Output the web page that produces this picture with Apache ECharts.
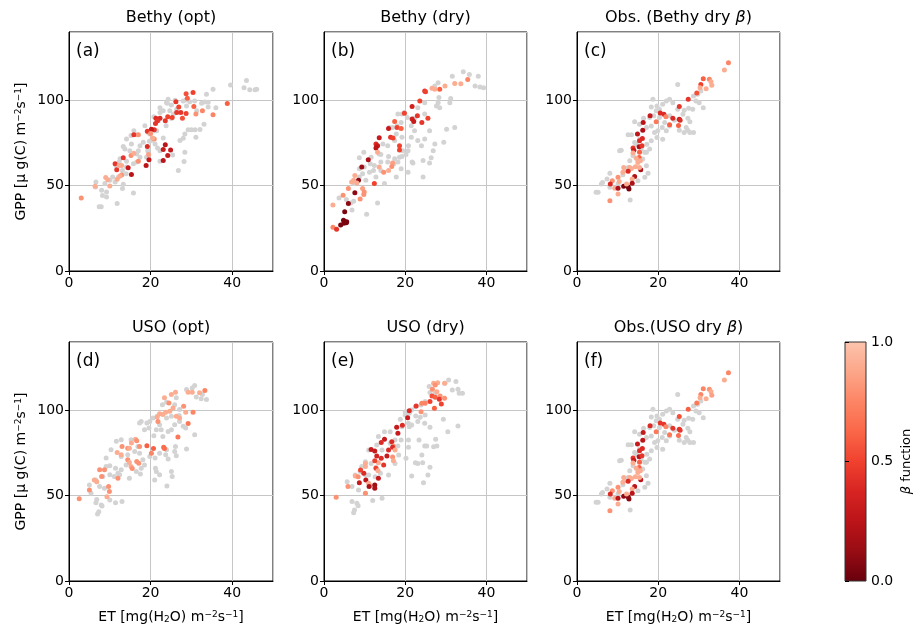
<!DOCTYPE html>
<html><head><meta charset="utf-8">
<script src="https://cdn.jsdelivr.net/npm/echarts@6/dist/echarts.min.js"></script>
<style>html,body{margin:0;padding:0;background:#fff}#c{width:915px;height:626px}</style>
</head><body><div id="c"></div>
<script>
// ---------- DATA (ET, GPP) gray = all points; dry = [ET, GPP, beta] ----------
const grayA = [[39.6,108.9],[43.5,111.6],[42.9,107.4],[44.3,106.2],[45.6,106.2],[46.0,106.4],[35.3,106.4],[33.7,103.5],[33.3,99.0],[34.1,98.8],[32.5,98.3],[30.8,99.6],[29.6,99.2],[28.7,100.2],[28.0,99.6],[26.0,100.0],[24.3,100.6],[23.9,98.6],[25.1,97.3],[22.3,95.7],[23.1,93.8],[24.7,93.8],[26.4,92.8],[24.1,98.3],[28.8,96.7],[31.3,93.8],[34.1,96.1],[36.0,95.7],[33.1,86.0],[32.1,82.9],[30.9,82.8],[30.0,82.8],[29.2,82.8],[28.4,80.2],[28.0,77.7],[31.1,78.3],[27.2,76.4],[28.4,69.6],[25.4,68.0],[26.8,58.9],[28.2,64.1],[23.8,85.1],[21.5,82.2],[19.8,80.2],[20.2,76.4],[21.1,74.4],[22.3,70.5],[22.3,64.3],[21.7,72.1],[19.0,66.7],[19.3,70.5],[18.6,85.1],[15.9,82.2],[16.6,79.8],[15.2,79.3],[14.1,77.3],[15.3,74.4],[13.3,72.9],[13.7,71.5],[14.9,70.5],[16.6,68.6],[17.4,66.7],[16.6,63.8],[15.8,62.8],[14.1,60.9],[12.5,65.7],[12.3,63.8],[11.5,61.8],[13.1,58.9],[14.0,57.0],[12.1,55.0],[10.7,55.0],[10.0,53.1],[11.3,52.1],[13.3,50.8],[8.8,51.2],[6.6,52.1],[6.5,49.2],[8.0,47.3],[9.2,46.3],[9.2,43.4],[8.2,44.2],[7.4,37.6],[7.9,37.6],[11.8,39.5],[15.8,45.7],[13.1,48.3],[18.2,75.4],[19.7,76.0],[17.4,73.4],[14.1,64.3],[17.0,70.5],[21.1,82.2],[19.4,81.2],[23.1,77.9],[25.1,89.3],[25.6,91.9],[26.4,94.8],[21.9,88.0],[22.3,92.8],[20.8,90.3]];
const dryA = [[28.7,103.9,0.55],[30.4,104.5,0.5],[29.0,101.2,0.6],[26.2,99.2,0.45],[26.9,96.1,0.5],[26.4,92.8,0.45],[27.4,92.8,0.45],[28.7,92.2,0.5],[30.6,96.3,0.6],[32.7,93.8,0.75],[35.3,91.5,0.75],[38.8,98.1,0.6],[31.1,91.9,0.8],[27.8,89.5,0.55],[25.3,89.9,0.5],[24.2,90.3,0.5],[23.6,88.0,0.45],[22.3,89.5,0.4],[21.3,89.5,0.4],[21.7,88.0,0.45],[21.2,86.4,0.45],[20.9,82.8,0.45],[20.2,83.1,0.3],[19.2,81.8,0.45],[20.0,80.6,0.8],[20.9,77.3,0.8],[20.5,77.9,0.9],[19.2,72.9,0.4],[19.5,68.2,0.85],[19.6,65.1,0.3],[18.9,61.8,0.25],[23.6,74.0,0.25],[23.1,71.1,0.3],[24.9,70.9,0.3],[24.2,67.6,0.3],[23.1,64.7,0.25],[15.9,79.8,0.45],[17.0,79.8,0.8],[15.2,67.6,0.8],[15.9,69.0,0.9],[13.3,66.3,0.45],[14.5,60.5,0.3],[15.3,56.6,0.25],[11.3,62.8,0.45],[11.7,59.3,0.45],[12.3,61.8,0.9],[12.9,61.8,0.9],[12.9,56.2,0.8],[12.5,55.6,0.9],[11.8,53.7,0.9],[9.0,54.7,0.9],[9.5,53.5,0.9],[6.4,49.6,0.9],[10.0,49.8,0.9],[3.0,42.8,0.8],[17.0,64.3,0.8]];

const grayB = [[34.3,116.7],[35.8,115.1],[38.0,114.1],[37.2,108.3],[38.4,107.8],[39.3,107.4],[31.6,114.1],[28.1,110.3],[27.3,108.3],[31.2,101.0],[31.0,98.6],[28.3,101.6],[28.1,98.6],[28.5,95.7],[27.7,96.7],[24.8,98.6],[23.1,95.7],[19.8,92.8],[19.2,91.9],[20.5,89.9],[19.0,87.0],[18.0,85.1],[21.5,85.1],[22.3,82.2],[21.5,78.3],[20.8,73.4],[19.2,78.3],[17.8,80.2],[17.4,76.4],[15.7,73.4],[14.5,74.4],[14.0,68.2],[15.9,67.1],[17.4,65.7],[18.6,66.7],[19.2,67.1],[20.2,68.2],[20.7,70.5],[23.1,76.4],[24.0,73.4],[24.8,77.3],[26.9,70.5],[27.3,74.4],[26.4,66.3],[26.0,63.2],[24.4,64.7],[21.7,63.8],[20.7,57.9],[21.9,63.2],[24.4,55.0],[17.8,55.0],[14.9,51.2],[13.2,39.9],[10.5,33.3],[6.9,35.7],[6.6,39.9],[7.4,51.2],[3.7,42.8],[8.7,55.0],[9.5,57.0],[11.2,57.9],[12.2,58.9],[12.8,55.0],[10.3,53.1],[9.8,69.6],[8.7,66.3],[11.6,66.7],[13.6,68.6],[11.4,62.8],[12.4,61.8],[9.9,60.9],[14.0,58.9],[8.7,59.9],[15.7,63.8],[17.2,62.8],[30.2,83.1],[32.2,84.1],[29.5,75.4],[16.9,84.1],[16.1,84.1],[18.2,91.9],[22.3,89.5],[24.8,91.9],[26.0,82.2],[19.4,70.5],[18.2,63.8],[7.3,40.9],[5.5,41.9],[14.0,63.8],[19.0,59.9]];
const dryB = [[35.4,112.2,0.75],[33.7,109.7,0.9],[32.2,109.9,0.9],[29.8,108.3,0.9],[28.5,106.4,0.6],[27.3,106.4,0.9],[26.6,107.0,0.9],[24.8,105.4,0.45],[25.0,105.0,0.5],[23.6,99.6,0.5],[21.7,96.3,0.35],[19.8,92.4,0.5],[23.0,90.9,0.45],[25.6,89.5,0.5],[24.1,87.0,0.45],[21.7,89.0,0.35],[22.1,87.6,0.3],[17.4,87.6,0.6],[18.0,84.1,0.5],[19.0,83.5,0.6],[15.9,83.5,0.3],[16.4,78.3,0.45],[17.0,77.9,0.5],[13.6,78.1,0.3],[12.8,74.4,0.4],[13.2,73.4,0.3],[12.8,72.1,0.25],[18.6,73.4,0.5],[18.6,70.9,0.5],[13.2,69.6,0.9],[10.9,65.1,0.2],[9.3,60.9,0.15],[16.9,63.2,0.85],[16.7,61.2,0.8],[15.9,58.9,0.9],[14.7,57.8,0.8],[13.6,60.9,0.9],[12.4,51.2,0.5],[8.5,53.1,0.1],[7.6,56.0,0.9],[8.1,51.6,0.9],[6.8,52.1,0.9],[7.3,53.1,0.9],[9.5,48.3,0.85],[9.9,46.3,0.8],[9.8,44.8,0.8],[6.0,48.3,0.8],[7.6,45.9,0.1],[8.9,42.2,0.8],[4.7,44.4,0.8],[6.0,39.5,0.1],[2.2,38.6,0.9],[5.1,34.7,0.05],[4.8,29.8,0.05],[5.2,28.9,0.05],[5.5,28.3,0.05],[4.9,27.9,0.05],[4.1,26.9,0.05],[5.6,28.9,0.05],[2.2,25.6,0.75],[3.1,24.4,0.45]];

const grayC = [[24.8,109.3],[30.5,105.4],[29.7,103.5],[28.7,102.5],[29.3,99.6],[30.1,98.6],[31.1,95.7],[28.5,94.7],[27.5,95.3],[26.4,94.2],[26.1,91.8],[24.8,94.7],[23.6,98.6],[22.8,100.6],[22.0,99.6],[21.1,97.7],[20.3,94.7],[19.5,93.8],[18.7,100.6],[18.3,96.1],[19.7,96.7],[18.9,90.9],[17.9,89.9],[16.4,89.5],[14.2,87.5],[15.4,86.0],[17.1,84.0],[18.3,85.0],[19.1,81.1],[19.9,82.1],[21.0,84.0],[22.0,82.1],[22.8,85.0],[21.1,77.2],[19.7,78.2],[18.3,76.3],[17.2,74.3],[17.9,71.4],[16.7,69.5],[16.2,65.6],[17.1,61.7],[17.5,57.2],[16.7,54.9],[15.0,52.9],[13.8,67.5],[13.0,64.6],[12.6,60.7],[11.8,58.8],[11.3,56.4],[10.5,70.4],[10.9,70.8],[12.6,79.8],[13.4,79.8],[14.2,75.3],[25.2,82.5],[26.4,81.1],[26.9,84.0],[27.3,82.5],[27.8,81.1],[28.7,81.1],[27.8,87.5],[27.3,89.5],[8.1,57.2],[7.4,53.9],[6.3,51.9],[6.0,51.0],[4.7,46.1],[5.2,46.1],[13.1,41.6],[8.1,49.0],[12.6,49.0],[10.1,51.0],[14.6,74.3],[15.4,77.2],[15.8,71.4],[20.3,89.9],[17.1,69.5],[15.0,64.6],[22.8,90.9],[24.0,88.3],[21.6,87.0]];
const dryC = [[37.3,122.0,0.75],[36.3,117.7,0.9],[31.1,112.6,0.6],[32.6,112.3,0.75],[33.0,110.9,0.9],[33.2,108.8,0.9],[30.5,109.3,0.5],[30.3,107.4,0.9],[31.8,106.8,0.9],[29.5,104.3,0.55],[27.4,100.6,0.45],[25.2,96.3,0.45],[20.5,92.6,0.4],[21.4,91.8,0.4],[21.9,90.3,0.75],[23.6,89.5,0.4],[25.2,88.9,0.35],[25.4,88.3,0.4],[22.8,85.6,0.6],[25.0,85.2,0.6],[19.5,87.5,0.7],[18.0,91.0,0.3],[16.3,87.0,0.25],[16.2,82.5,0.2],[14.9,80.2,0.25],[16.1,77.6,0.4],[15.4,76.3,0.4],[15.3,72.8,0.2],[16.0,73.3,0.45],[13.8,72.0,0.45],[14.0,70.8,0.3],[15.4,69.5,0.6],[13.8,69.1,0.9],[15.3,66.5,0.6],[14.6,66.0,0.9],[15.6,64.6,0.9],[15.0,63.6,0.9],[14.4,61.1,0.9],[15.7,59.3,0.2],[15.4,60.7,0.9],[13.0,60.7,0.9],[13.4,60.1,0.9],[11.5,60.7,0.9],[11.3,57.8,0.9],[12.6,58.4,0.4],[14.2,55.4,0.2],[13.6,53.9,0.9],[10.1,54.9,0.8],[10.4,52.5,0.9],[8.7,52.9,0.8],[8.2,51.0,0.4],[9.3,48.4,0.9],[10.1,48.4,0.2],[11.5,49.6,0.05],[12.6,49.4,0.05],[12.8,48.1,0.05],[13.6,51.4,0.2],[12.2,51.0,0.9],[10.1,45.1,0.9],[8.1,41.2,0.8]];

const grayD = [[30.8,114.5],[30.2,113.1],[28.8,112.2],[26.3,107.3],[25.9,103.3],[23.9,104.7],[22.9,103.3],[31.2,107.8],[32.4,106.7],[33.7,106.3],[32.7,109.2],[27.1,100.4],[27.0,96.9],[25.1,96.5],[23.9,95.5],[21.6,96.5],[20.6,95.5],[19.8,93.5],[19.1,92.5],[17.7,93.5],[17.3,92.5],[18.5,88.6],[19.6,89.6],[21.4,88.6],[22.6,88.6],[22.2,91.6],[20.8,85.1],[23.0,84.7],[24.3,87.6],[25.1,88.6],[25.9,91.6],[27.1,93.5],[28.0,90.6],[28.6,89.6],[30.8,85.7],[28.8,77.3],[26.1,78.8],[25.9,75.9],[26.3,73.3],[23.9,76.9],[23.7,73.9],[24.3,71.4],[22.2,74.9],[21.1,72.0],[19.8,72.9],[18.5,68.0],[17.7,66.1],[17.5,62.7],[16.5,64.1],[14.8,60.2],[21.2,66.1],[21.4,64.1],[22.2,62.2],[21.0,59.2],[25.1,64.1],[25.3,61.2],[24.0,55.7],[18.1,71.0],[16.1,75.9],[14.4,73.9],[12.8,72.9],[11.6,81.8],[12.8,82.7],[10.3,76.9],[9.1,72.0],[9.1,67.1],[10.0,67.5],[11.4,66.1],[12.0,63.1],[12.8,65.1],[12.4,62.2],[11.1,61.2],[10.0,62.2],[8.3,61.2],[6.6,59.2],[7.5,55.3],[8.7,54.3],[5.0,56.3],[5.4,51.4],[6.8,47.8],[6.6,45.9],[7.9,44.5],[8.1,43.9],[7.3,40.6],[7.0,39.2],[11.4,45.9],[13.0,46.5],[10.0,47.5],[14.0,68.0],[15.2,82.7],[16.9,78.8],[17.3,74.9]];
const dryD = [[33.3,111.6,0.75],[32.0,110.2,0.9],[30.2,110.6,0.9],[29.2,110.6,0.9],[26.1,110.6,0.9],[25.1,109.2,0.9],[23.4,107.3,0.9],[24.5,104.3,0.8],[25.5,101.4,0.9],[24.7,99.4,0.9],[23.7,98.8,0.9],[22.2,98.0,0.9],[21.6,96.1,0.9],[21.8,93.5,0.8],[23.0,97.5,0.9],[26.3,96.5,0.9],[27.1,95.5,0.9],[28.1,102.4,0.8],[28.6,98.8,0.9],[30.4,98.8,0.75],[29.2,92.2,0.7],[26.7,84.3,0.7],[23.2,78.4,0.65],[23.4,77.6,0.65],[20.7,77.6,0.6],[19.1,79.2,0.6],[20.2,74.9,0.75],[17.3,78.8,0.8],[16.3,83.1,0.9],[16.6,82.2,0.8],[15.3,80.8,0.9],[14.4,77.8,0.8],[14.8,77.8,0.9],[13.0,78.8,0.8],[12.8,73.9,0.9],[11.8,75.3,0.9],[14.4,71.0,0.8],[14.8,69.4,0.9],[16.6,70.0,0.8],[17.1,69.0,0.8],[15.2,67.1,0.9],[15.5,65.9,0.8],[12.0,60.2,0.8],[8.7,65.1,0.8],[7.5,65.1,0.8],[8.0,61.2,0.8],[6.2,59.2,0.9],[6.8,58.2,0.9],[9.7,55.3,0.8],[9.9,52.4,0.8],[9.3,49.4,0.9],[5.0,53.3,0.8],[2.5,48.2,0.8]];

const grayE = [[30.7,117.8],[32.5,116.8],[29.8,115.8],[31.6,111.9],[33.0,112.3],[33.3,110.0],[34.1,110.0],[25.9,113.9],[26.1,110.4],[27.4,110.0],[24.9,105.1],[23.9,103.1],[22.5,102.1],[21.6,100.2],[20.0,99.2],[20.0,97.3],[21.0,98.2],[22.6,96.7],[23.7,95.9],[24.9,97.3],[23.1,93.4],[21.6,91.4],[20.8,92.4],[18.8,94.7],[19.2,90.4],[21.0,90.4],[24.8,92.4],[26.1,90.0],[29.4,94.7],[30.5,87.5],[33.0,90.8],[27.5,83.0],[27.8,79.1],[27.0,78.7],[25.3,79.1],[24.8,79.1],[23.4,82.6],[20.8,82.6],[20.8,78.3],[18.2,79.1],[20.2,71.9],[22.5,69.3],[23.1,68.9],[24.1,73.8],[24.3,69.3],[26.1,66.6],[25.6,62.1],[21.6,61.5],[24.5,57.6],[18.4,73.8],[17.5,68.9],[15.9,62.1],[14.9,87.5],[13.4,84.6],[13.0,79.7],[11.0,76.8],[10.2,69.9],[9.3,67.0],[11.6,68.9],[12.8,66.6],[13.9,63.1],[12.6,61.1],[10.2,62.1],[8.9,64.1],[7.7,62.1],[5.7,58.2],[6.9,55.3],[8.5,53.3],[10.2,51.4],[12.0,47.1],[14.3,48.4],[6.9,46.5],[8.1,45.5],[8.4,44.1],[7.5,41.6],[7.3,40.0],[11.0,62.1],[14.3,76.8],[16.3,80.7],[16.3,87.5],[17.5,82.6],[19.0,82.6]];
const dryE = [[27.0,115.8,0.9],[28.0,116.2,0.9],[27.4,114.8,0.8],[29.7,115.8,0.9],[26.7,112.3,0.8],[27.8,110.9,0.9],[28.6,108.4,0.8],[29.7,107.0,0.8],[26.6,108.4,0.55],[27.4,107.6,0.6],[28.4,106.4,0.45],[26.1,105.1,0.5],[28.9,103.7,0.5],[27.2,101.2,0.6],[24.9,104.1,0.75],[24.1,104.1,0.75],[22.7,102.5,0.45],[23.9,99.2,0.8],[21.0,99.8,0.4],[20.6,95.7,0.3],[19.3,91.2,0.4],[17.9,90.0,0.3],[18.2,86.5,0.3],[14.9,83.0,0.3],[14.1,81.1,0.4],[16.7,81.6,0.4],[17.1,79.1,0.8],[16.9,78.3,0.4],[17.5,76.8,0.9],[15.9,76.8,0.4],[11.6,77.1,0.3],[12.5,76.2,0.3],[13.0,73.2,0.35],[14.1,71.9,0.4],[15.5,73.2,0.3],[16.9,72.7,0.8],[17.1,70.5,0.9],[14.7,68.0,0.45],[13.4,69.3,0.9],[12.5,70.5,0.5],[10.2,68.9,0.9],[10.2,67.0,0.9],[12.8,66.0,0.5],[13.3,64.6,0.9],[9.0,65.0,0.5],[9.8,63.1,0.4],[13.4,60.2,0.3],[7.7,61.5,0.9],[8.4,61.1,0.8],[10.3,59.2,0.25],[8.7,57.6,0.3],[11.0,57.2,0.9],[11.4,55.9,0.9],[11.1,55.3,0.2],[12.5,56.3,0.15],[12.5,54.3,0.2],[10.2,51.4,0.8],[5.9,55.3,0.8],[3.0,49.0,0.8]];

const grayF = grayC;
const dryF = [[37.3,122.0,0.75],[36.3,117.7,0.9],[31.1,112.6,0.75],[32.6,112.3,0.8],[33.0,110.9,0.9],[33.2,108.8,0.85],[30.5,109.3,0.75],[30.3,107.4,0.9],[31.8,106.8,0.9],[29.5,104.3,0.7],[27.4,100.6,0.6],[25.2,96.3,0.55],[20.5,92.6,0.45],[21.4,91.8,0.45],[21.9,90.3,0.75],[23.6,89.5,0.45],[25.2,88.9,0.45],[25.4,88.3,0.45],[22.8,85.6,0.7],[25.0,85.2,0.65],[19.5,87.5,0.7],[18.0,91.0,0.4],[16.3,87.0,0.3],[16.2,82.5,0.25],[14.9,80.2,0.3],[16.1,77.6,0.4],[15.4,76.3,0.4],[15.3,72.8,0.25],[16.0,73.3,0.45],[13.8,72.0,0.45],[14.0,70.8,0.3],[15.4,69.5,0.6],[13.8,69.1,0.9],[15.3,66.5,0.6],[14.6,66.0,0.9],[15.6,64.6,0.9],[15.0,63.6,0.9],[14.4,61.1,0.9],[15.7,59.3,0.25],[15.4,60.7,0.9],[13.0,60.7,0.9],[13.4,60.1,0.9],[11.5,60.7,0.9],[11.3,57.8,0.9],[12.6,58.4,0.4],[14.2,55.4,0.25],[13.6,53.9,0.9],[10.1,54.9,0.8],[10.4,52.5,0.9],[8.7,52.9,0.8],[8.2,51.0,0.4],[9.3,48.4,0.9],[10.1,48.4,0.25],[11.5,49.6,0.1],[12.6,49.4,0.1],[12.8,48.1,0.1],[13.6,51.4,0.25],[12.2,51.0,0.9],[10.1,45.1,0.9],[8.1,41.2,0.8]];

const panelTitles = ['Bethy (opt)','Bethy (dry)','Obs. (Bethy dry {b|β})','USO (opt)','USO (dry)','Obs.(USO dry {b|β})'];
const panelLabels = ['(a)','(b)','(c)','(d)','(e)','(f)'];
const xTicks = [0, 20, 40];
const yTicks = [0, 50, 100];
const cbarTicks = [0.0, 0.5, 1.0];
// matplotlib "Reds" restricted range, beta 0 -> 1
const betaColors = ['#67000d','#970c13','#bb1419','#d72422','#f0412f','#fa6748','#fc8565','#fca689','#fcc4ad'];

// ---------- CHART ----------
const FONT = 'DejaVu Sans';
const grays = [grayA, grayB, grayC, grayD, grayE, grayF];
const drys = [dryA, dryB, dryC, dryD, dryE, dryF];
const lefts = [69, 324, 577];
const widths = [204, 203, 203];
const tops = [32, 342];
const H = 239;

const richSup = {
  sup: {fontSize: 9, verticalAlign: 'top', fontFamily: FONT, color: '#000'},
  sub: {fontSize: 9, verticalAlign: 'bottom', fontFamily: FONT, color: '#000'},
  b: {fontStyle: 'italic', fontSize: 16, fontFamily: FONT, color: '#000'}
};

const grid = [], xAxis = [], yAxis = [], series = [], title = [];
for (let i = 0; i < 6; i++) {
  const r = Math.floor(i / 3), c = i % 3;
  grid.push({left: lefts[c], top: tops[r], width: widths[c], height: H, show: true, borderColor: '#000', borderWidth: 1, backgroundColor: 'transparent'});
  xAxis.push({
    gridIndex: i, type: 'value', min: 0, max: 50, interval: xTicks[1] - xTicks[0],
    axisLine: {show: true, onZero: false, lineStyle: {color: '#000', width: 1}},
    axisTick: {show: true, length: 4, lineStyle: {color: '#000'}},
    axisLabel: {color: '#000', fontSize: 14, fontFamily: FONT, margin: 5, showMaxLabel: false},
    splitLine: {show: true, lineStyle: {color: '#c6c6c6', width: 1}},
    name: r === 1 ? 'ET [mg(H{sub|2}O) m{sup|−2}s{sup|−1}]' : '',
    nameLocation: 'middle', nameGap: 29,
    nameTextStyle: {fontSize: 14, color: '#000', fontFamily: FONT, rich: richSup}
  });
  yAxis.push({
    gridIndex: i, type: 'value', min: 0, max: 140, interval: yTicks[1] - yTicks[0],
    axisLine: {show: true, onZero: false, lineStyle: {color: '#000', width: 1}},
    axisTick: {show: true, length: 4, lineStyle: {color: '#000'}},
    axisLabel: {color: '#000', fontSize: 14, fontFamily: FONT, margin: 5, showMaxLabel: false},
    splitLine: {show: true, lineStyle: {color: '#c6c6c6', width: 1}},
    name: c === 0 ? 'GPP [μ g(C) m{sup|−2}s{sup|−1}]' : '',
    nameLocation: 'middle', nameGap: 41, nameRotate: 90,
    nameTextStyle: {fontSize: 14, color: '#000', fontFamily: FONT, rich: richSup}
  });
  series.push({type: 'scatter', xAxisIndex: i, yAxisIndex: i, data: grays[i], symbolSize: 5, itemStyle: {color: '#d3d3d3', opacity: 1}, silent: true, z: 2});
  series.push({type: 'scatter', xAxisIndex: i, yAxisIndex: i, data: drys[i], symbolSize: 5, itemStyle: {opacity: 1}, silent: true, z: 3});
  title.push({text: panelTitles[i], left: lefts[c] + widths[c] / 2, top: r === 0 ? 10 : 320, textAlign: 'center', padding: 0,
    textStyle: {fontSize: 16, fontWeight: 'normal', color: '#000', fontFamily: FONT, rich: richSup}});
  title.push({text: panelLabels[i], left: lefts[c] + 7, top: tops[r] + 11, padding: 0,
    textStyle: {fontSize: 17, fontWeight: 'normal', color: '#000', fontFamily: FONT}});
}
// colorbar
const stops = betaColors.map((col, k) => ({offset: 1 - k / (betaColors.length - 1), color: col}));
grid.push({left: 845, top: 342, width: 21, height: H, show: true, borderColor: '#333', borderWidth: 1,
  backgroundColor: {type: 'linear', x: 0, y: 0, x2: 0, y2: 1, colorStops: stops.slice().sort((a, b) => a.offset - b.offset)}});
xAxis.push({gridIndex: 6, type: 'value', show: false, min: 0, max: 1});
yAxis.push({gridIndex: 6, type: 'value', position: 'right', min: cbarTicks[0], max: cbarTicks[2], interval: cbarTicks[1] - cbarTicks[0],
  axisLine: {show: false}, axisTick: {show: true, length: 4, lineStyle: {color: '#000'}},
  axisLabel: {color: '#000', fontSize: 14, fontFamily: FONT, margin: 5, formatter: v => v.toFixed(1)},
  splitLine: {show: false},
  name: '{b|β} function', nameLocation: 'middle', nameGap: 34, nameRotate: 90,
  nameTextStyle: {fontSize: 13, color: '#000', fontFamily: FONT, rich: {b: {fontStyle: 'italic', fontSize: 13, fontFamily: FONT, color: '#000'}}}});

const chart = echarts.init(document.getElementById('c'), null, {renderer: 'canvas'});
chart.setOption({
  animation: false, backgroundColor: '#fff',
  title, grid, xAxis, yAxis, series,
  visualMap: {type: 'continuous', show: false, min: 0, max: 1, dimension: 2, seriesIndex: [1, 3, 5, 7, 9, 11], inRange: {color: betaColors}}
});
</script>
</body></html>
